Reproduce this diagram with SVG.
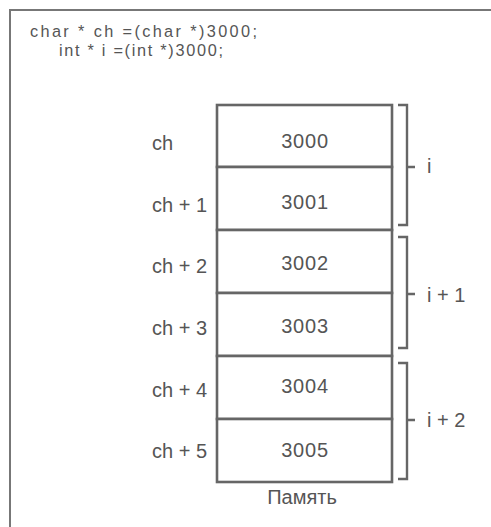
<svg xmlns="http://www.w3.org/2000/svg" width="491" height="527" viewBox="0 0 491 527">
<style>
text{font-family:"Liberation Sans",Arial,sans-serif;fill:#555;}
.t{font-size:16.3px;}
.lbl{font-size:20px;}
.num{font-size:20px;text-anchor:middle;letter-spacing:0.8px;}
.cell{fill:#fff;stroke:#666;stroke-width:2.6;}
.br{fill:none;stroke:#666;stroke-width:2.4;}
.frame{fill:none;stroke:#777;stroke-width:2;}
</style>
<rect width="491" height="527" fill="#fff"/>
<path class="frame" d="M10,527 V10 H491"/>
<g id="code">
<text class="t" x="30" y="36.5" textLength="227" lengthAdjust="spacing">char * ch =(char *)3000;</text>
<text class="t" x="59" y="55.5" textLength="164" lengthAdjust="spacing">int * i =(int *)3000;</text>
</g>
<g id="memory">
<g id="cell3000"><rect class="cell" x="217" y="105" width="175" height="62"/><text class="num" x="305" y="148">3000</text><text class="lbl" x="152" y="150">ch</text></g>
<g id="cell3001"><rect class="cell" x="217" y="167" width="175" height="63"/><text class="num" x="305" y="209">3001</text><text class="lbl" x="152" y="212">ch + 1</text></g>
<g id="cell3002"><rect class="cell" x="217" y="230" width="175" height="63"/><text class="num" x="305" y="270">3002</text><text class="lbl" x="152" y="273">ch + 2</text></g>
<g id="cell3003"><rect class="cell" x="217" y="293" width="175" height="63"/><text class="num" x="305" y="333">3003</text><text class="lbl" x="152" y="335">ch + 3</text></g>
<g id="cell3004"><rect class="cell" x="217" y="356" width="175" height="63"/><text class="num" x="305" y="393">3004</text><text class="lbl" x="152" y="397">ch + 4</text></g>
<g id="cell3005"><rect class="cell" x="217" y="419" width="175" height="63"/><text class="num" x="305" y="457">3005</text><text class="lbl" x="152" y="458">ch + 5</text></g>
<text class="lbl" x="302" y="504" text-anchor="middle">Память</text>
</g>
<g id="connectors">
<path class="br" d="M398,105 H407 V225 H398 M407,167 H415"/>
<path class="br" d="M398,237 H407 V348 H398 M407,294 H415"/>
<path class="br" d="M398,363 H407 V479 H398 M407,420 H415"/>
</g>
<g id="int-labels">
<text class="lbl" x="427" y="173">i</text>
<text class="lbl" x="427" y="302">i + 1</text>
<text class="lbl" x="427" y="427">i + 2</text>
</g>
</svg>
